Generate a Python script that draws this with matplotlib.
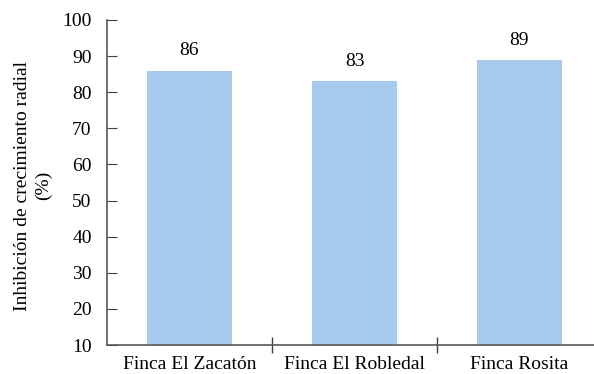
import matplotlib
matplotlib.use("Agg")
import matplotlib.pyplot as plt

categories = ["Finca El Zacatón", "Finca El Robledal", "Finca Rosita"]
values = [86, 83, 89]
yticks = [10, 20, 30, 40, 50, 60, 70, 80, 90, 100]

plt.rcParams['font.family'] = ['Liberation Serif', 'DejaVu Serif']
FS = 14

fig = plt.figure(figsize=(5.94, 3.74), dpi=100)
ax = fig.add_axes([107/594, 29/374, 495/594, 325/374])

x = list(range(len(categories)))
ax.bar(x, values, width=0.51, color="#a6c9ec")
ax.set_xlim(-0.5, 2.5)
ax.set_ylim(10, 100)
ax.set_yticks(yticks)
ax.set_xticks(x)
ax.set_xticklabels(categories, fontsize=FS)
ax.tick_params(axis='x', length=0, pad=8)
ax.set_xticks([0.5, 1.5], minor=True)
ax.tick_params(axis='x', which='minor', length=12, direction='inout', color='#404040', width=1)
ax.tick_params(axis='y', direction='in', length=7, color='#404040', labelsize=FS, pad=11)

for s in ['top', 'right']:
    ax.spines[s].set_visible(False)
for s in ['left', 'bottom']:
    ax.spines[s].set_color('#595959')
    ax.spines[s].set_linewidth(1.2)

for xi, v in zip(x, values):
    ax.annotate(f"{v}", (xi, v), xytext=(0, 8), textcoords='offset points',
                ha='center', va='bottom', fontsize=FS)

ax.set_ylabel("Inhibición de crecimiento radial\n(%)", fontsize=FS, linespacing=1.25)
ax.yaxis.set_label_coords(-55/495, 0.49)

fig.savefig("out.png", dpi=100)
